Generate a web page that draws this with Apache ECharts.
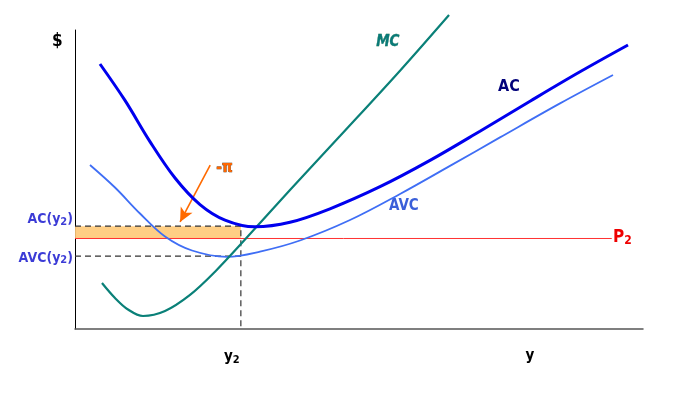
<!DOCTYPE html>
<html>
<head>
<meta charset="utf-8">
<script src="https://cdn.jsdelivr.net/npm/echarts@6/dist/echarts.min.js"></script>
<style>
html,body{margin:0;padding:0;background:#fff;}
#c{width:689px;height:420px;}
</style>
</head>
<body>
<div id="c"></div>
<script>
// ---- data (x: quantity units 0..100, y: $ units 0..100) ----
const acCurve = [[4.40,88.63],[8.80,76.45],[13.20,62.68],[17.61,50.50],[22.01,41.61],[26.41,36.42],[31.69,34.18],[37.85,35.69],[44.89,40.20],[53.70,47.59],[62.50,56.39],[71.30,66.15],[80.11,76.19],[88.91,86.02],[97.36,94.98]];
const avcCurve = [[2.64,54.85],[7.04,47.32],[11.44,38.63],[15.85,30.94],[20.60,26.25],[26.76,24.15],[32.57,25.89],[39.61,29.60],[48.42,36.45],[57.22,45.15],[66.02,54.55],[74.82,64.08],[85.39,75.45],[94.72,84.95]];
const mcCurve = [[4.75,15.38],[7.04,10.37],[9.33,6.52],[11.97,4.35],[15.85,6.02],[20.25,11.40],[24.65,19.16],[29.93,29.90],[37.85,46.46],[46.65,64.52],[57.22,86.39],[65.85,105.02]];
const price = 30.27;
const priceEndX = 94.5;
const y2 = 29.2;
const acAtY2 = 34.4;
const avcAtY2 = 24.4;
const yLabelX = 80.1;
const lossArrow = [[23.8,54.8],[18.5,35.8]];

const FONT = '"DejaVu Sans Condensed","DejaVu Sans",sans-serif';
const SMOOTH = 0.35;

const chart = echarts.init(document.getElementById('c'));
chart.setOption({
  animation: false,
  grid: {left: 75, right: 46, top: 30, bottom: 91},
  xAxis: {
    type: 'value', min: 0, max: 100,
    splitLine: {show: false},
    axisTick: {show: false},
    axisLine: {onZero: false, lineStyle: {color: '#555', width: 1.5}},
    axisLabel: {
      customValues: [y2, yLabelX],
      margin: 20,
      formatter: v => Math.abs(v - y2) < 0.01 ? '{b|y}{t|2}' : '{b|y}',
      rich: {
        b: {fontFamily: FONT, fontWeight: 'bold', fontSize: 15, color: '#000'},
        t: {fontFamily: FONT, fontWeight: 'bold', fontSize: 11, color: '#000', verticalAlign: 'bottom', padding: [6,18,0,0]}
      }
    }
  },
  yAxis: {
    type: 'value', min: 0, max: 100,
    splitLine: {show: false},
    axisTick: {show: false},
    axisLabel: {show: false},
    axisLine: {show: true, onZero: false, lineStyle: {color: '#000', width: 1}}
  },
  series: [
    {
      type: 'line', name: 'P2', data: [[0, price],[priceEndX, price]],
      symbol: 'none', lineStyle: {color: '#ff3030', width: 1}, z: 2,
      markArea: {
        silent: true,
        itemStyle: {color: '#ffc977', opacity: 0.9},
        data: [[{coord: [0, price]}, {coord: [y2, acAtY2]}]]
      }
    },
    {
      type: 'line', name: 'acGuide', data: [[0, acAtY2],[y2, acAtY2],[y2, 0]],
      symbol: 'none', lineStyle: {color: '#333', width: 1.2, type: [6,4]}, z: 3
    },
    {
      type: 'line', name: 'avcGuide', data: [[0, avcAtY2],[y2, avcAtY2]],
      symbol: 'none', lineStyle: {color: '#333', width: 1.2, type: [6,4]}, z: 3
    },
    {
      type: 'line', name: 'AVC', data: avcCurve, smooth: SMOOTH, symbol: 'none',
      lineStyle: {color: '#3f6ef5', width: 1.8}, z: 4
    },
    {
      type: 'line', name: 'MC', data: mcCurve, smooth: SMOOTH, symbol: 'none', clip: false,
      lineStyle: {color: '#0a8078', width: 2.2}, z: 5
    },
    {
      type: 'line', name: 'AC', data: acCurve, smooth: SMOOTH, symbol: 'none',
      lineStyle: {color: '#0000ee', width: 3}, z: 6,
      markLine: {
        silent: true, symbol: ['none', 'arrow'], symbolSize: [10, 14],
        lineStyle: {color: '#ff6a00', width: 1.6, type: 'solid'},
        label: {show: false},
        data: [[{coord: lossArrow[0]}, {coord: lossArrow[1]}]]
      }
    },
    {
      type: 'scatter', name: 'labels', symbolSize: 0, z: 10, silent: true,
      data: [
        {value: [0, acAtY2], label: {formatter: '{b|AC(y}{s|2}{b|)}', offset: [0, -7]}},
        {value: [0, avcAtY2], label: {formatter: '{b|AVC(y}{s|2}{b|)}', offset: [0, 2]}}
      ],
      label: {
        show: true, position: 'left', distance: 2,
        rich: {
          b: {fontFamily: FONT, fontWeight: 'bold', fontSize: 14, color: '#0a0acc'},
          s: {fontFamily: FONT, fontWeight: 'bold', fontSize: 11, color: '#0a0acc', verticalAlign: 'bottom', padding: [5,0,0,0]}
        }
      }
    }
  ],
  graphic: [
    {type: 'text', left: 52, top: 33, style: {text: '$', font: 'bold 17px ' + FONT, fill: '#000'}},
    {type: 'text', left: 376, top: 34, style: {text: 'MC', font: 'italic bold 15px ' + FONT, fill: '#0a7a78', stroke: '#063', lineWidth: 0.3}},
    {type: 'text', left: 498, top: 79, style: {text: 'AC', font: 'bold 16px ' + FONT, fill: '#00007a'}},
    {type: 'text', left: 389, top: 199, style: {text: 'AVC', font: 'bold 15px ' + FONT, fill: '#3a5fd9'}},
    {type: 'text', left: 613, top: 229, style: {
      rich: {
        p: {font: 'bold 17px ' + FONT, fill: '#ee0000'},
        s: {font: 'bold 12px ' + FONT, fill: '#ee0000', padding: [7,0,0,0]}
      },
      text: '{p|P}{s|2}'
    }},
    {type: 'text', left: 216, top: 160, style: {text: '-π', font: 'bold 15px ' + FONT, fill: '#ff6600', stroke: '#402000', lineWidth: 0.6}}
  ]
});
</script>
</body>
</html>
